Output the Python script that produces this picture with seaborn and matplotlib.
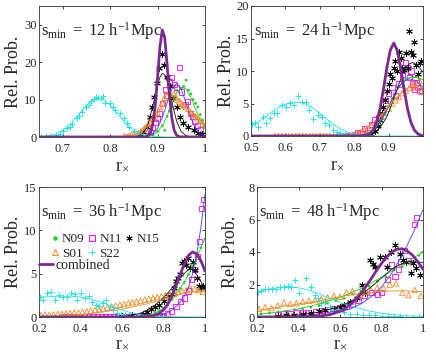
import matplotlib
matplotlib.use("Agg")
import matplotlib.pyplot as plt
from matplotlib.lines import Line2D
import seaborn as sns

# ---------------- data ----------------
# panel 1: s_min = 12
p1_s22_x = [0.655, 0.665, 0.675, 0.685, 0.695, 0.70, 0.71, 0.715, 0.72, 0.73, 0.735, 0.74, 0.75, 0.755, 0.76,
            0.765, 0.77, 0.775, 0.78, 0.785, 0.79, 0.80, 0.805, 0.81, 0.82, 0.83, 0.835, 0.84, 0.85, 0.86, 0.87]
p1_s22_y = [0.05, 0.2, 0.3, 0.5, 0.8, 1.5, 2.4, 2.6, 3.6, 5.0, 5.5, 6.8, 8.0, 8.6, 9.6,
            10.1, 10.6, 10.3, 10.4, 11.0, 9.2, 9.0, 7.9, 7.2, 6.3, 5.0, 3.7, 2.8, 1.6, 1.0, 0.3]
p1_s22_fx = [0.65, 0.66, 0.67, 0.68, 0.69, 0.70, 0.71, 0.72, 0.73, 0.74, 0.75, 0.76, 0.77, 0.78, 0.79,
             0.80, 0.81, 0.82, 0.83, 0.84, 0.85, 0.86, 0.87, 0.88, 0.89, 0.90, 0.92, 0.95, 1.0]
p1_s22_fy = [0.08, 0.17, 0.33, 0.61, 1.08, 1.77, 2.75, 4.0, 5.5, 7.0, 8.5, 9.6, 10.2, 10.2, 9.6,
             8.5, 7.0, 5.5, 4.0, 2.75, 1.77, 1.08, 0.61, 0.33, 0.17, 0.08, 0.01, 0, 0]
p1_n15_x = [0.864, 0.870, 0.877, 0.884, 0.888, 0.893, 0.898, 0.904, 0.909, 0.914, 0.919, 0.926, 0.933, 0.94,
            0.947, 0.954, 0.965, 0.976, 0.986, 0.993]
p1_n15_y = [0.7, 1.4, 2.8, 5.4, 8.1, 10.8, 14.4, 18.4, 22.2, 19.3, 16.1, 13.5, 10.3, 7.9,
            5.4, 3.7, 2.8, 1.9, 1.0, 0.8]
p1_n15_fx = [0.65, 0.84, 0.85, 0.86, 0.87, 0.88, 0.89, 0.90, 0.905, 0.91, 0.915, 0.92, 0.93, 0.94, 0.95,
             0.96, 0.97, 0.98, 1.0]
p1_n15_fy = [0, 0.01, 0.04, 0.25, 1.1, 3.5, 8.3, 13.9, 16.0, 17.0, 16.6, 14.9, 9.4, 4.3, 1.4,
             0.34, 0.06, 0.01, 0]
p1_n11_x = [0.875, 0.885, 0.89, 0.895, 0.90, 0.904, 0.91, 0.916, 0.92, 0.925, 0.93, 0.935, 0.94, 0.946,
            0.95, 0.958, 0.963, 0.969, 0.974, 0.979, 0.985, 0.99, 0.998]
p1_n11_y = [0.5, 1.2, 2.5, 3.8, 5.0, 6.3, 9.0, 12.6, 11.0, 14.8, 16.0, 14.0, 13.2, 18.5,
            12.0, 8.6, 9.5, 6.3, 5.5, 4.1, 3.0, 1.9, 0.5]
p1_n11_fx = [0.65, 0.86, 0.87, 0.88, 0.89, 0.90, 0.91, 0.92, 0.93, 0.94, 0.95, 0.96, 0.97, 0.98, 0.99, 1.0]
p1_n11_fy = [0, 0.01, 0.05, 0.24, 0.84, 2.3, 5.2, 9.1, 12.8, 14.3, 12.8, 9.1, 5.2, 2.3, 0.84, 0.24]
p1_n09_x = [0.88, 0.89, 0.90, 0.91, 0.915, 0.92, 0.925, 0.93, 0.935, 0.94, 0.945, 0.95, 0.955, 0.96,
            0.965, 0.97, 0.975, 0.98, 0.985, 0.99, 0.995, 1.0]
p1_n09_y = [0.3, 0.8, 1.5, 3.0, 1.8, 5.5, 7.0, 8.0, 10.0, 12.5, 12.0, 13.0, 13.5, 15.2,
            12.5, 11.5, 10.0, 9.0, 8.0, 6.0, 4.5, 3.0]
p1_n09_fx = [0.65, 0.87, 0.88, 0.89, 0.90, 0.91, 0.92, 0.93, 0.94, 0.95, 0.96, 0.97, 0.98, 0.99, 1.0]
p1_n09_fy = [0, 0.05, 0.19, 0.56, 1.4, 3.05, 5.6, 8.8, 11.7, 13.35, 12.9, 10.6, 7.5, 4.5, 2.3]
p1_s01_x = [0.83, 0.835, 0.84, 0.845, 0.85, 0.855, 0.86, 0.865, 0.87, 0.875, 0.88, 0.885, 0.89, 0.895,
            0.90, 0.905, 0.91, 0.915, 0.92, 0.925, 0.93, 0.935, 0.94, 0.945, 0.95, 0.955, 0.96, 0.965,
            0.97, 0.975, 0.98, 0.985, 0.99, 0.995, 1.0]
p1_s01_y = [0.2, 0.1, 0.3, 0.5, 0.7, 0.9, 1.0, 1.5, 2.0, 2.5, 3.5, 4.0, 5.0, 5.5,
            6.5, 8.0, 9.0, 10.5, 11.0, 12.0, 10.5, 11.5, 10.0, 9.5, 9.0, 8.5, 8.0, 7.5,
            6.5, 6.0, 5.5, 5.0, 4.5, 3.5, 3.0]
p1_s01_fx = [0.65, 0.82, 0.83, 0.85, 0.87, 0.89, 0.90, 0.91, 0.92, 0.93, 0.94, 0.95, 0.96, 0.97, 0.98, 0.99, 1.0]
p1_s01_fy = [0, 0.02, 0.1, 0.5, 1.8, 4.5, 6.3, 8.3, 10.2, 11.2, 10.8, 9.6, 8.0, 6.5, 5.2, 4.2, 3.3]
p1_comb_x = [0.65, 0.87, 0.875, 0.88, 0.885, 0.89, 0.895, 0.90, 0.905, 0.91, 0.915, 0.92, 0.925, 0.93,
             0.935, 0.94, 0.945, 0.95, 1.0]
p1_comb_y = [0, 0.01, 0.06, 0.28, 1.1, 3.44, 8.4, 16.0, 24.1, 28.6, 26.6, 19.5, 11.2, 5.1,
             1.8, 0.5, 0.1, 0.02, 0]

# panel 2: s_min = 24
p2_s22_x = [0.503, 0.512, 0.521, 0.534, 0.544, 0.555, 0.567, 0.576, 0.589, 0.602, 0.613, 0.626, 0.636, 0.647,
            0.66, 0.67, 0.681, 0.694, 0.705, 0.715, 0.728, 0.737, 0.749, 0.76, 0.773, 0.785, 0.795]
p2_s22_y = [1.8, 1.95, 1.4, 2.97, 2.05, 2.7, 3.6, 3.6, 4.8, 4.4, 5.1, 4.8, 6.15, 5.3,
            5.3, 4.0, 2.6, 3.2, 2.9, 1.95, 1.7, 1.0, 0.66, 0.5, 0.3, 0.2, 0.1]
p2_s22_fx = [0.5, 0.52, 0.54, 0.56, 0.58, 0.6, 0.62, 0.64, 0.66, 0.68, 0.70, 0.72, 0.74, 0.76, 0.78,
             0.80, 0.82, 0.84, 0.86, 1.0]
p2_s22_fy = [1.5, 2.1, 2.9, 3.7, 4.4, 4.9, 5.2, 5.2, 4.9, 4.3, 3.5, 2.6, 1.8, 1.1, 0.6,
             0.3, 0.12, 0.04, 0.0, 0]
p2_s01_x = [0.57, 0.58, 0.59, 0.60, 0.61, 0.62, 0.63, 0.64, 0.65, 0.66, 0.67, 0.68, 0.69, 0.70, 0.71,
            0.72, 0.73, 0.74, 0.75, 0.76, 0.77, 0.78, 0.79, 0.80, 0.81, 0.82, 0.83, 0.84, 0.85, 0.86,
            0.87, 0.88, 0.89, 0.90, 0.91, 0.92, 0.93, 0.94, 0.95, 0.96, 0.97, 0.975, 0.98, 0.99, 0.995]
p2_s01_y = [0, 0, 0, 0, 0, 0, 0, 0, 0, 0, 0, 0, 0, 0, 0,
            0, 0, 0, 0, 0, 0, 0, 0.1, 0.2, 0.4, 0.6, 0.9, 1.2, 1.6, 2.0,
            2.5, 3.0, 3.6, 4.2, 5.0, 5.5, 6.0, 6.6, 7.0, 7.4, 7.8, 8.2, 7.5, 8.5, 6.9]
p2_s01_fx = [0.5, 0.76, 0.78, 0.80, 0.82, 0.84, 0.86, 0.88, 0.90, 0.92, 0.94, 0.96, 0.97, 0.98, 1.0]
p2_s01_fy = [0, 0.02, 0.1, 0.4, 0.8, 1.4, 2.2, 3.3, 4.6, 5.8, 6.8, 7.5, 7.7, 7.7, 7.4]
p2_n15_x = [0.85, 0.86, 0.87, 0.875, 0.88, 0.885, 0.89, 0.895, 0.90, 0.905, 0.91, 0.915, 0.92, 0.925,
            0.93, 0.935, 0.94, 0.945, 0.95, 0.955, 0.96, 0.965, 0.97, 0.975, 0.98, 0.985, 0.99, 0.995]
p2_n15_y = [0.3, 0.8, 1.5, 2.5, 3.5, 4.5, 5.5, 7.0, 8.0, 9.5, 9.0, 10.5, 11.5, 10.0,
            13.0, 12.0, 10.5, 10.2, 12.8, 10.5, 16.2, 13.0, 12.5, 14.5, 11.0, 9.5, 11.2, 11.5]
p2_n15_fx = [0.5, 0.83, 0.85, 0.86, 0.87, 0.88, 0.89, 0.90, 0.91, 0.92, 0.93, 0.94, 0.95, 0.96, 0.97,
             0.98, 0.99, 1.0]
p2_n15_fy = [0, 0.02, 0.2, 0.5, 1.0, 1.7, 2.5, 3.6, 5.0, 6.5, 8.0, 9.4, 10.5, 11.1, 11.3,
             11.0, 10.5, 9.8]
p2_n11_x = [0.78, 0.79, 0.80, 0.81, 0.82, 0.83, 0.84, 0.85, 0.86, 0.87, 0.88, 0.89, 0.90, 0.91,
            0.92, 0.93, 0.94, 0.95, 0.955, 0.96, 0.965, 0.97, 0.975, 0.98, 0.985, 0.99, 0.995]
p2_n11_y = [0, 0.1, 0.2, 0.6, 0.4, 1.2, 0.6, 1.8, 2.5, 2.8, 4.0, 5.5, 6.5, 7.5,
            6.2, 8.0, 9.5, 11.3, 10.5, 9.0, 10.0, 8.0, 7.2, 8.2, 7.5, 7.0, 6.8]
p2_n11_fx = [0.5, 0.80, 0.82, 0.84, 0.86, 0.88, 0.90, 0.92, 0.94, 0.96, 0.98, 1.0]
p2_n11_fy = [0, 0.05, 0.15, 0.35, 1.0, 2.5, 4.5, 6.7, 8.3, 8.8, 8.5, 7.5]
p2_n09_x = [0.82, 0.84, 0.85, 0.86, 0.87, 0.88, 0.89, 0.90, 0.91, 0.92, 0.93, 0.94, 0.95, 0.96,
            0.97, 0.98, 0.99]
p2_n09_y = [0.1, 0.4, 0.7, 1.2, 1.8, 2.6, 3.6, 4.6, 5.8, 6.5, 7.7, 8.3, 8.8, 9.5,
            9.1, 9.2, 8.7]
p2_n09_fx = [0.5, 0.80, 0.82, 0.84, 0.86, 0.88, 0.90, 0.92, 0.94, 0.96, 0.98, 1.0]
p2_n09_fy = [0, 0.03, 0.1, 0.4, 1.2, 2.6, 4.6, 6.7, 8.2, 9.0, 9.0, 8.7]
p2_comb_x = [0.5, 0.82, 0.835, 0.845, 0.855, 0.865, 0.875, 0.885, 0.895, 0.905, 0.915, 0.925, 0.935,
             0.945, 0.955, 0.965, 0.975, 0.985, 0.995, 1.0]
p2_comb_y = [0, 0.02, 0.1, 0.33, 0.9, 2.1, 4.2, 7.2, 10.5, 13.2, 14.3, 13.2, 10.5,
             7.2, 4.2, 2.1, 0.9, 0.33, 0.1, 0.05]

# panel 3: s_min = 36
p3_s22_x = [0.203, 0.219, 0.24, 0.256, 0.276, 0.295, 0.316, 0.336, 0.353, 0.372, 0.385, 0.404, 0.42, 0.44,
            0.455, 0.476, 0.49, 0.508, 0.524, 0.54, 0.557, 0.575, 0.595, 0.615, 0.64, 0.67, 0.70]
p3_s22_y = [2.34, 2.0, 2.8, 2.9, 2.0, 2.5, 2.3, 2.34, 2.8, 2.65, 2.0, 2.8, 2.15, 2.4,
            1.77, 1.4, 1.3, 1.65, 1.96, 1.1, 0.8, 0.5, 0.35, 0.2, 0.1, 0.05, 0.02]
p3_s22_fx = [0.2, 0.25, 0.3, 0.35, 0.4, 0.45, 0.5, 0.55, 0.6, 0.65, 0.7, 0.75, 0.8, 0.9, 1.0]
p3_s22_fy = [2.3, 2.35, 2.4, 2.4, 2.3, 2.05, 1.7, 1.25, 0.8, 0.45, 0.22, 0.1, 0.04, 0.01, 0]
p3_s01_x = [0.21, 0.23, 0.25, 0.27, 0.29, 0.31, 0.33, 0.35, 0.37, 0.39, 0.41, 0.43, 0.45, 0.47, 0.49,
            0.51, 0.53, 0.55, 0.57, 0.59, 0.61, 0.63, 0.65, 0.67, 0.69, 0.71, 0.73, 0.75, 0.77, 0.79,
            0.81, 0.83, 0.85, 0.87, 0.89, 0.91, 0.93, 0.95, 0.97, 0.99]
p3_s01_y = [0.2, 0.3, 0.25, 0.3, 0.35, 0.35, 0.4, 0.45, 0.5, 0.5, 0.6, 0.65, 0.75, 0.8, 0.9,
            1.0, 1.1, 1.2, 1.3, 1.4, 1.5, 1.6, 1.7, 1.8, 1.9, 2.0, 2.1, 2.2, 2.3, 2.4,
            2.5, 2.6, 2.7, 2.9, 3.0, 3.1, 3.3, 3.2, 3.1, 2.9]
p3_s01_fx = [0.2, 0.3, 0.4, 0.5, 0.6, 0.7, 0.8, 0.85, 0.9, 0.95, 1.0]
p3_s01_fy = [0.05, 0.15, 0.3, 0.55, 0.9, 1.4, 2.0, 2.4, 2.75, 2.95, 2.9]
p3_n15_x = [0.60, 0.65, 0.70, 0.72, 0.74, 0.76, 0.78, 0.80, 0.82, 0.84, 0.85, 0.86, 0.87, 0.88, 0.89,
            0.90, 0.91, 0.92, 0.93, 0.94, 0.95, 0.96, 0.97, 0.98, 0.99, 1.0]
p3_n15_y = [0.1, 0.2, 0.4, 0.6, 0.9, 1.2, 1.4, 1.8, 2.4, 2.7, 3.4, 4.1, 4.5, 5.0, 6.2,
            6.5, 6.0, 6.8, 5.7, 6.3, 5.4, 4.5, 3.6, 3.3, 3.6, 3.5]
p3_n15_fx = [0.2, 0.55, 0.6, 0.65, 0.7, 0.75, 0.8, 0.85, 0.88, 0.9, 0.92, 0.94, 0.96, 0.98, 1.0]
p3_n15_fy = [0, 0.02, 0.05, 0.2, 0.5, 1.2, 2.2, 3.6, 4.5, 5.0, 5.5, 5.5, 4.9, 4.1, 3.2]
p3_n11_x = [0.32, 0.34, 0.36, 0.38, 0.40, 0.42, 0.44, 0.46, 0.48, 0.50, 0.52, 0.54, 0.56, 0.58, 0.60,
            0.62, 0.64, 0.66, 0.68, 0.70, 0.72, 0.74, 0.76, 0.78, 0.80, 0.82, 0.84, 0.86, 0.88, 0.90,
            0.92, 0.935, 0.95, 0.965, 0.975, 0.985, 0.995]
p3_n11_y = [0, 0, 0, 0, 0, 0, 0, 0, 0, 0, 0, 0, 0, 0, 0,
            0, 0, 0, 0, 0, 0, 0, 0, 0, 0.2, 0.4, 0.7, 1.2, 1.8, 2.2,
            3.0, 4.3, 5.5, 7.0, 8.7, 12.5, 13.6]
p3_n11_fx = [0.2, 0.76, 0.78, 0.80, 0.82, 0.84, 0.86, 0.88, 0.90, 0.92, 0.94, 0.96, 0.98, 1.0]
p3_n11_fy = [0, 0.05, 0.1, 0.3, 0.5, 0.8, 1.2, 1.7, 2.4, 3.4, 5.0, 7.2, 10.3, 14.2]
p3_n09_x = [0.70, 0.72, 0.74, 0.76, 0.78, 0.80, 0.82, 0.84, 0.86, 0.88, 0.90, 0.92, 0.94, 0.96, 0.98, 1.0]
p3_n09_y = [0.1, 0.2, 0.3, 0.5, 0.7, 1.0, 1.4, 2.0, 2.5, 3.3, 4.0, 4.9, 5.9, 7.0, 8.0, 9.0]
p3_n09_fx = [0.2, 0.65, 0.7, 0.75, 0.8, 0.85, 0.9, 0.95, 1.0]
p3_n09_fy = [0, 0.02, 0.1, 0.35, 1.0, 2.2, 4.0, 6.3, 9.1]
p3_comb_x = [0.2, 0.6, 0.7, 0.75, 0.78, 0.80, 0.82, 0.84, 0.86, 0.88, 0.90, 0.92, 0.94, 0.96, 0.98, 1.0]
p3_comb_y = [0, 0, 0.01, 0.13, 0.43, 0.82, 1.45, 2.4, 3.6, 4.9, 6.1, 7.1, 7.5, 7.3, 6.5, 5.3]

# panel 4: s_min = 48
p4_s22_x = [0.205, 0.22, 0.237, 0.255, 0.27, 0.29, 0.31, 0.33, 0.35, 0.365, 0.385, 0.40, 0.438, 0.46,
            0.478, 0.495, 0.51, 0.53, 0.55, 0.566, 0.59, 0.62, 0.65, 0.68, 0.71, 0.74, 0.77, 0.80,
            0.83, 0.86, 0.89, 0.92, 0.95, 0.98]
p4_s22_y = [1.55, 1.6, 1.75, 1.7, 1.7, 1.75, 1.85, 1.85, 1.9, 1.85, 2.25, 1.5, 2.4, 1.85,
            1.35, 1.2, 0.85, 0.95, 0.6, 0.45, 0.5, 0.3, 0.2, 0.2, 0.15, 0.1, 0.1, 0.08,
            0.05, 0.05, 0.05, 0.03, 0.03, 0.02]
p4_s22_fx = [0.2, 0.25, 0.3, 0.35, 0.4, 0.45, 0.5, 0.55, 0.6, 0.65, 0.7, 0.75, 0.8, 0.85, 0.9, 0.95, 1.0]
p4_s22_fy = [1.55, 1.7, 1.8, 1.85, 1.8, 1.65, 1.42, 1.15, 0.9, 0.68, 0.5, 0.35, 0.24, 0.15, 0.1, 0.06, 0.04]
p4_s01_x = [0.21, 0.24, 0.27, 0.30, 0.33, 0.36, 0.39, 0.42, 0.45, 0.48, 0.51, 0.54, 0.57, 0.60,
            0.63, 0.66, 0.69, 0.72, 0.75, 0.78, 0.81, 0.84, 0.87, 0.90, 0.93, 0.96, 0.99]
p4_s01_y = [0.5, 0.6, 0.55, 0.7, 0.9, 0.8, 0.85, 0.95, 1.0, 1.05, 1.1, 1.2, 1.3, 1.25,
            1.5, 1.6, 1.35, 1.56, 1.65, 1.8, 1.75, 2.0, 2.07, 1.5, 1.35, 1.66, 1.3]
p4_s01_fx = [0.2, 0.3, 0.4, 0.5, 0.6, 0.7, 0.8, 0.9, 1.0]
p4_s01_fy = [0.4, 0.6, 0.8, 1.0, 1.25, 1.45, 1.58, 1.62, 1.55]
p4_n15_x = [0.30, 0.34, 0.38, 0.42, 0.46, 0.50, 0.53, 0.57, 0.60, 0.62, 0.65, 0.68, 0.705, 0.72, 0.743,
            0.757, 0.767, 0.793, 0.815, 0.828, 0.847, 0.865, 0.888, 0.905, 0.92, 0.94, 0.952, 0.968, 0.984]
p4_n15_y = [0.05, 0.1, 0.15, 0.2, 0.23, 0.39, 0.43, 0.47, 0.6, 0.74, 0.9, 1.2, 1.97, 1.5, 3.5,
            3.26, 3.06, 3.7, 3.7, 3.06, 4.0, 4.43, 3.9, 3.5, 3.4, 2.7, 3.3, 3.0, 2.6]
p4_n15_fx = [0.2, 0.3, 0.4, 0.5, 0.6, 0.65, 0.7, 0.75, 0.8, 0.85, 0.9, 0.95, 1.0]
p4_n15_fy = [0.02, 0.05, 0.12, 0.3, 0.65, 0.95, 1.35, 1.85, 2.4, 2.95, 3.3, 3.45, 3.35]
p4_n11_x = [0.30, 0.33, 0.36, 0.39, 0.42, 0.45, 0.48, 0.51, 0.54, 0.57, 0.60, 0.63, 0.66, 0.69,
            0.72, 0.75, 0.78, 0.80, 0.83, 0.85, 0.865, 0.88, 0.89, 0.91, 0.93, 0.96, 0.97]
p4_n11_y = [0.15, 0.2, 0.2, 0.25, 0.3, 0.3, 0.35, 0.4, 0.45, 0.5, 0.55, 0.65, 0.8, 1.0,
            1.3, 1.5, 1.4, 1.5, 2.3, 3.2, 2.5, 2.9, 3.4, 4.1, 3.5, 5.7, 6.1]
p4_n11_fx = [0.2, 0.4, 0.5, 0.55, 0.6, 0.65, 0.7, 0.75, 0.8, 0.85, 0.9, 0.95, 1.0]
p4_n11_fy = [0, 0.03, 0.1, 0.18, 0.3, 0.5, 0.8, 1.25, 1.85, 2.7, 3.8, 5.1, 6.6]
p4_n09_x = [0.22, 0.26, 0.30, 0.34, 0.38, 0.42, 0.46, 0.50, 0.54, 0.58, 0.62, 0.66, 0.70, 0.74,
            0.78, 0.82, 0.86, 0.90, 0.94, 0.98, 1.0]
p4_n09_y = [0.2, 0.25, 0.3, 0.35, 0.45, 0.5, 0.6, 0.7, 0.85, 1.0, 1.15, 1.4, 1.6, 1.9,
            2.2, 2.5, 2.9, 3.1, 3.4, 3.8, 4.0]
p4_n09_fx = [0.2, 0.3, 0.4, 0.5, 0.6, 0.7, 0.8, 0.9, 1.0]
p4_n09_fy = [0.15, 0.3, 0.5, 0.8, 1.2, 1.75, 2.45, 3.2, 4.0]
p4_comb_x = [0.2, 0.4, 0.5, 0.55, 0.6, 0.625, 0.65, 0.675, 0.7, 0.725, 0.75, 0.775, 0.8, 0.825, 0.85,
             0.875, 0.9, 0.925, 0.95, 0.975, 1.0]
p4_comb_y = [0, 0.003, 0.05, 0.14, 0.35, 0.52, 0.77, 1.07, 1.44, 1.88, 2.35, 2.84, 3.3, 3.7, 4.0,
             4.17, 4.2, 4.05, 3.8, 3.4, 2.95]

smin_values = [12, 24, 36, 48]
series_names = ["N09", "N11", "N15", "S01", "S22"]

# ---------------- style ----------------
sns.set_style("ticks")
plt.rcParams["font.family"] = ["Liberation Serif", "DejaVu Serif"]
plt.rcParams["mathtext.fontset"] = "custom"
plt.rcParams["mathtext.rm"] = "Liberation Serif"
plt.rcParams["mathtext.it"] = "Liberation Serif:italic"
plt.rcParams["xtick.direction"] = "in"
plt.rcParams["ytick.direction"] = "in"
plt.rcParams["xtick.top"] = True
plt.rcParams["ytick.right"] = True

C_N09 = "#1ed21e"
C_N11 = "#ff00ff"
C_N11_FIT = "#3c3cff"
C_N15 = "#111111"
C_S01 = "#f08a24"
C_S22 = "#1fe3e3"
C_COMB = "#7b2a8e"

marker_style = {
    "N09": dict(marker="o", s=4, color=C_N09, edgecolor="none"),
    "N11": dict(marker="s", s=14, facecolor="none", edgecolor=C_N11, linewidth=0.6),
    "N15": dict(marker=(6, 2, 0), s=18, color=C_N15, linewidth=0.7),
    "S01": dict(marker="^", s=16, facecolor="none", edgecolor=C_S01, linewidth=0.6),
    "S22": dict(marker="+", s=20, color=C_S22, linewidth=0.7),
}
fit_color = {"N09": C_N09, "N11": C_N11_FIT, "N15": C_N15, "S01": C_S01, "S22": C_S22}

panels = [
    dict(pts={"N09": (p1_n09_x, p1_n09_y), "N11": (p1_n11_x, p1_n11_y), "N15": (p1_n15_x, p1_n15_y),
              "S01": (p1_s01_x, p1_s01_y), "S22": (p1_s22_x, p1_s22_y)},
         fits={"N09": (p1_n09_fx, p1_n09_fy), "N11": (p1_n11_fx, p1_n11_fy), "N15": (p1_n15_fx, p1_n15_fy),
               "S01": (p1_s01_fx, p1_s01_fy), "S22": (p1_s22_fx, p1_s22_fy)},
         comb=(p1_comb_x, p1_comb_y), xlim=(0.65, 1.0), ylim=(0, 35),
         xticks=[0.7, 0.8, 0.9, 1.0], xtl=["0.7", "0.8", "0.9", "1"], yticks=[0, 10, 20, 30],
         rect=[39 / 436, 1 - 137 / 360, 166 / 436, 131 / 360], ylab_x=-0.10, xlab_y=-0.15),
    dict(pts={"N09": (p2_n09_x, p2_n09_y), "N11": (p2_n11_x, p2_n11_y), "N15": (p2_n15_x, p2_n15_y),
              "S01": (p2_s01_x, p2_s01_y), "S22": (p2_s22_x, p2_s22_y)},
         fits={"N09": (p2_n09_fx, p2_n09_fy), "N11": (p2_n11_fx, p2_n11_fy), "N15": (p2_n15_fx, p2_n15_fy),
               "S01": (p2_s01_fx, p2_s01_fy), "S22": (p2_s22_fx, p2_s22_fy)},
         comb=(p2_comb_x, p2_comb_y), xlim=(0.5, 1.0), ylim=(0, 20),
         xticks=[0.5, 0.6, 0.7, 0.8, 0.9], xtl=["0.5", "0.6", "0.7", "0.8", "0.9"], yticks=[0, 5, 10, 15, 20],
         rect=[251 / 436, 1 - 136 / 360, 172 / 436, 130 / 360], ylab_x=-0.095, xlab_y=-0.15),
    dict(pts={"N09": (p3_n09_x, p3_n09_y), "N11": (p3_n11_x, p3_n11_y), "N15": (p3_n15_x, p3_n15_y),
              "S01": (p3_s01_x, p3_s01_y), "S22": (p3_s22_x, p3_s22_y)},
         fits={"N09": (p3_n09_fx, p3_n09_fy), "N11": (p3_n11_fx, p3_n11_fy), "N15": (p3_n15_fx, p3_n15_fy),
               "S01": (p3_s01_fx, p3_s01_fy), "S22": (p3_s22_fx, p3_s22_fy)},
         comb=(p3_comb_x, p3_comb_y), xlim=(0.2, 1.0), ylim=(0, 15),
         xticks=[0.2, 0.4, 0.6, 0.8, 1.0], xtl=["0.2", "0.4", "0.6", "0.8", "1"], yticks=[0, 5, 10, 15],
         rect=[39 / 436, 1 - 317 / 360, 166 / 436, 130 / 360], ylab_x=-0.10, xlab_y=-0.135),
    dict(pts={"N09": (p4_n09_x, p4_n09_y), "N11": (p4_n11_x, p4_n11_y), "N15": (p4_n15_x, p4_n15_y),
              "S01": (p4_s01_x, p4_s01_y), "S22": (p4_s22_x, p4_s22_y)},
         fits={"N09": (p4_n09_fx, p4_n09_fy), "N11": (p4_n11_fx, p4_n11_fy), "N15": (p4_n15_fx, p4_n15_fy),
               "S01": (p4_s01_fx, p4_s01_fy), "S22": (p4_s22_fx, p4_s22_fy)},
         comb=(p4_comb_x, p4_comb_y), xlim=(0.2, 1.0), ylim=(0, 8),
         xticks=[0.2, 0.4, 0.6, 0.8, 1.0], xtl=["0.2", "0.4", "0.6", "0.8", "1"], yticks=[0, 2, 4, 6, 8],
         rect=[257 / 436, 1 - 317 / 360, 166 / 436, 130 / 360], ylab_x=-0.11, xlab_y=-0.135),
]

fig = plt.figure(figsize=(4.36, 3.6), dpi=100)

for i, p in enumerate(panels):
    ax = fig.add_axes(p["rect"])
    for name in series_names:
        x, y = p["pts"][name]
        sns.scatterplot(x=x, y=y, ax=ax, zorder=2, **marker_style[name])
    for name in series_names:
        fx, fy = p["fits"][name]
        sns.lineplot(x=fx, y=fy, ax=ax, color=fit_color[name], lw=0.6, zorder=3)
    sns.lineplot(x=p["comb"][0], y=p["comb"][1], ax=ax, color=C_COMB, lw=2.0, zorder=4)

    ax.set_xlim(*p["xlim"])
    ax.set_ylim(*p["ylim"])
    ax.set_xticks(p["xticks"])
    ax.set_xticklabels(p["xtl"])
    ax.set_yticks(p["yticks"])
    ax.set_yticklabels([str(v) for v in p["yticks"]])
    ax.tick_params(length=2.5, width=0.6, labelsize=9)
    ax.tick_params(axis="x", pad=4.5)
    ax.tick_params(axis="y", pad=1.5)
    for sp in ax.spines.values():
        sp.set_linewidth(0.6)
        sp.set_color("#333333")
    ax.set_ylabel("Rel. Prob.", fontsize=13)
    ax.set_xlabel(r"$\mathregular{r_{\times}}$", fontsize=13)
    ax.yaxis.set_label_coords(p["ylab_x"], 0.5)
    ax.xaxis.set_label_coords(0.5, p["xlab_y"])
    ax.text(0.015, 0.775, r"$\mathregular{s_{min}\ =\ %d\ h^{-1}Mpc}$" % smin_values[i],
            transform=ax.transAxes, fontsize=12, va="baseline")

    if i == 2:
        order = ["N09", "S01", "N11", "S22", "N15"]
        handles = []
        for name in order:
            st = marker_style[name]
            h = Line2D([], [], linestyle="none", marker=st["marker"],
                       markersize=4.5 if name != "N09" else 2.5,
                       markerfacecolor="none" if name in ("N11", "S01") else st.get("color"),
                       markeredgecolor=st.get("edgecolor", st.get("color")) if name != "N09" else C_N09,
                       markeredgewidth=0.7)
            handles.append(h)
        leg1 = ax.legend(handles, order, ncol=3, loc="upper left", bbox_to_anchor=(0.075, 0.645),
                         frameon=False, fontsize=9.5, handlelength=0.5, handletextpad=0.3,
                         columnspacing=0.3, borderpad=0, borderaxespad=0, labelspacing=0.15)
        ax.add_artist(leg1)
        comb_handle = Line2D([], [], color=C_COMB, lw=2.0)
        ax.legend([comb_handle], ["combined"], loc="upper left", bbox_to_anchor=(0.0, 0.445),
                  frameon=False, fontsize=10, handlelength=1.0, handletextpad=0.2,
                  borderpad=0, borderaxespad=0)

fig.savefig("out.png", dpi=100)
